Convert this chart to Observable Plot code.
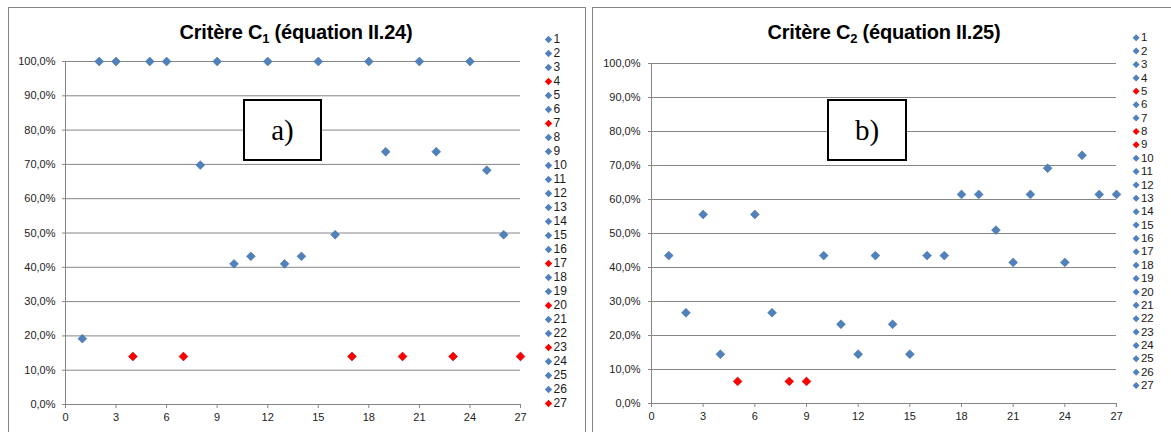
<!DOCTYPE html>
<html><head><meta charset="utf-8">
<script src="https://cdn.jsdelivr.net/npm/d3@7"></script>
<script src="https://cdn.jsdelivr.net/npm/@observablehq/plot@0.6"></script>
<style>
html,body{margin:0;padding:0;background:#fff;width:1171px;height:432px;overflow:hidden;position:relative;}
.panel{position:absolute;border:1px solid #868686;background:#fff;}
.chart{position:absolute;top:0;}
.title{position:absolute;text-align:center;font-family:"Liberation Sans",Arial,sans-serif;font-weight:bold;font-size:20px;line-height:22px;color:#000;white-space:nowrap;letter-spacing:-0.2px;}
.title sub{font-size:13px;vertical-align:-4px;line-height:0;}
.tag{position:absolute;border:2px solid #000;background:#fff;box-sizing:border-box;font-family:"Liberation Serif","Times New Roman",serif;font-size:29px;display:flex;align-items:center;justify-content:center;color:#000;}
</style></head><body>
<div class="panel" style="left:8px;top:7px;width:576px;height:500px;"></div>
<div class="panel" style="left:592px;top:7px;width:600px;height:500px;"></div>
<div id="c1" class="chart" style="left:0px;"></div>
<div id="l1" class="chart" style="left:540px;"></div>
<div id="c2" class="chart" style="left:590px;"></div>
<div id="l2" class="chart" style="left:1128px;"></div>
<div class="title" style="left:8px;top:21px;width:576px;">Critère C<sub>1</sub> (équation II.24)</div>
<div class="title" style="left:592px;top:21px;width:584px;">Critère C<sub>2</sub> (équation II.25)</div>
<div class="tag" style="left:243px;top:99px;width:79px;height:62px;">a)</div>
<div class="tag" style="left:827px;top:99px;width:80px;height:62px;">b)</div>
<script>
// --- data ---
const runs = [1,2,3,4,5,6,7,8,9,10,11,12,13,14,15,16,17,18,19,20,21,22,23,24,25,26,27];
const c1Values = [0.192,1.0,1.0,0.14,1.0,1.0,0.14,0.698,1.0,0.41,0.432,1.0,0.41,0.432,1.0,0.495,0.14,1.0,0.737,0.14,1.0,0.737,0.14,1.0,0.683,0.495,0.14];
const c1Red = [4,7,17,20,23,27];
const c2Values = [0.435,0.267,0.556,0.145,0.065,0.556,0.267,0.065,0.065,0.435,0.233,0.145,0.435,0.233,0.145,0.435,0.435,0.615,0.615,0.51,0.415,0.615,0.692,0.415,0.73,0.615,0.615];
const c2Red = [5,8,9];
const yTicks = [0,0.1,0.2,0.3,0.4,0.5,0.6,0.7,0.8,0.9,1.0];
const xTicks = [0,3,6,9,12,15,18,21,24,27];
const blue = "#4F81BD", red = "#FF0000";

const fmt = d => (d*100).toFixed(1).replace(".", ",") + "%";
const font = "'Liberation Sans', Arial, sans-serif";

function mainChart(values, reds, g) {
  const rows = runs.map((r, i) => ({run: r, value: values[i], hl: reds.includes(r)}));
  return Plot.plot({
    width: g.width, height: 432,
    marginLeft: g.ml, marginRight: g.mr, marginTop: g.mt, marginBottom: g.mb,
    x: {domain: [0, 27]},
    y: {domain: [0, 1]},
    color: {type: "identity"},
    style: {fontFamily: font, fontSize: "11px", color: "#222", background: "transparent", overflow: "visible"},
    marks: [
      Plot.ruleY(yTicks, {stroke: "#868686", strokeWidth: 1}),
      Plot.ruleX([0], {y1: 0, y2: 1, stroke: "#868686"}),
      Plot.axisY({ticks: yTicks, tickSize: 3, tickPadding: g.yPad, tickFormat: fmt, stroke: "#868686", fill: "#222", label: null}),
      Plot.axisX({ticks: xTicks, tickSize: 4, tickPadding: 5, tickFormat: d => String(d), stroke: "#868686", fill: "#222", label: null}),
      Plot.dot(rows, {x: "run", y: "value", symbol: "diamond2", r: 4,
        fill: d => d.hl ? red : blue,
        stroke: d => d.hl ? "#a00000" : "#41699a", strokeWidth: 0.5})
    ]
  });
}

function legend(reds, g) {
  const rows = runs.map(r => ({run: r, hl: reds.includes(r)}));
  return Plot.plot({
    width: 45, height: 432,
    marginLeft: 8, marginRight: 0, marginTop: g.mt, marginBottom: g.mb,
    y: {type: "point", domain: runs, padding: 0, axis: null},
    color: {type: "identity"},
    style: {fontFamily: font, fontSize: "12px", background: "transparent", overflow: "visible"},
    marks: [
      Plot.dot(rows, {y: "run", frameAnchor: "left", symbol: "diamond2", r: 3.3,
        fill: d => d.hl ? red : blue}),
      Plot.text(rows, {y: "run", text: d => String(d.run), frameAnchor: "left", dx: 5,
        textAnchor: "start", fill: "#1a1a1a", fontSize: 12})
    ]
  });
}

document.getElementById("c1").append(mainChart(c1Values, c1Red, {width: 590, ml: 65, mr: 70, mt: 61, mb: 28, yPad: 7}));
document.getElementById("l1").append(legend(c1Red, {mt: 39, mb: 29}));
document.getElementById("c2").append(mainChart(c2Values, c2Red, {width: 581, ml: 61, mr: 55, mt: 63, mb: 29, yPad: 8}));
document.getElementById("l2").append(legend(c2Red, {mt: 34, mb: 24}));
</script>
</body></html>
